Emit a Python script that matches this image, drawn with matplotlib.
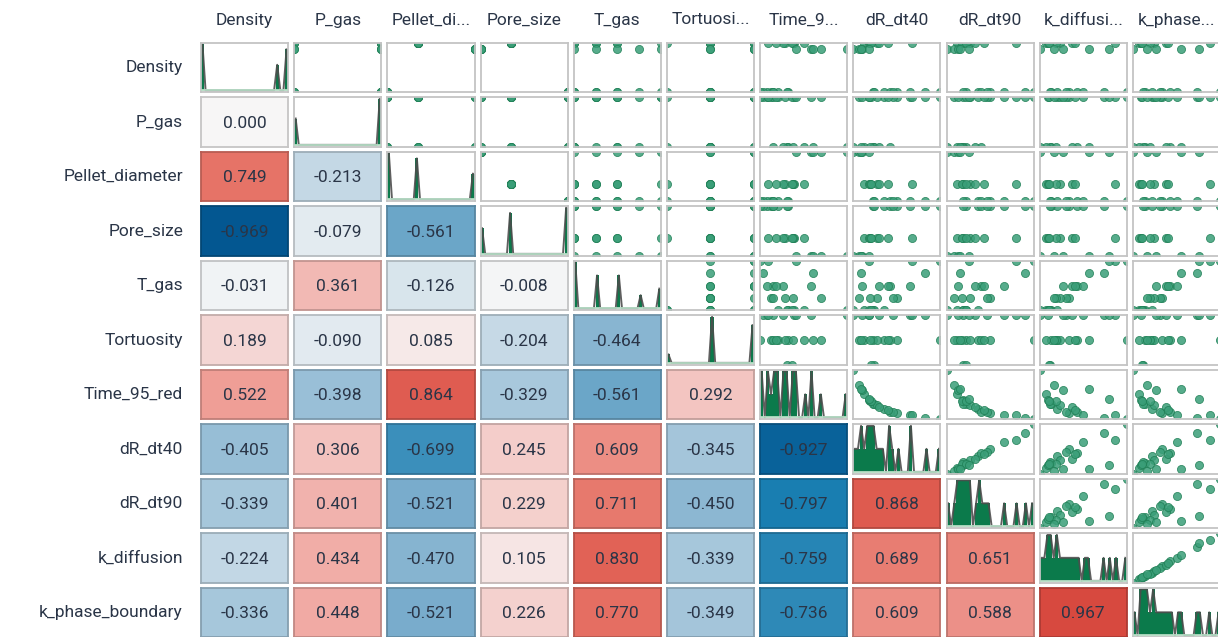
import numpy as np
import matplotlib
matplotlib.use("Agg")
import matplotlib.pyplot as plt
from matplotlib.colors import LinearSegmentedColormap, to_rgb

plt.rcParams['font.family'] = ['Roboto', 'DejaVu Sans']

# variable names (rows) and the truncated column headers as shown
names = ['Density', 'P_gas', 'Pellet_diameter', 'Pore_size', 'T_gas', 'Tortuosity',
         'Time_95_red', 'dR_dt40', 'dR_dt90', 'k_diffusion', 'k_phase_boundary']
headers = ['Density', 'P_gas', 'Pellet_di...', 'Pore_size', 'T_gas', 'Tortuosi...',
           'Time_9...', 'dR_dt40', 'dR_dt90', 'k_diffusi...', 'k_phase...']

# samples (estimated from the scatter cells)
density = [3.20, 3.20, 3.20, 3.20, 3.20, 3.20, 3.20, 3.20, 3.20,
           4.40, 4.40, 4.40, 4.40, 4.40, 4.40, 4.40, 4.40,
           4.26, 4.26, 4.26, 4.26, 4.26]
p_gas = [1, 5, 5, 1, 5, 5, 5, 1, 5,
         1, 5, 5, 1, 5, 5, 1, 5,
         1, 5, 5, 1, 5]
pellet_diameter = [10.0, 10.0, 10.0, 10.0, 10.0, 10.0, 10.0, 10.0, 10.0,
                   11.4, 11.4, 11.4, 11.4, 11.4, 11.4, 11.4, 11.4,
                   14.0, 14.0, 14.0, 14.0, 14.0]
pore_size = [2.0, 2.0, 2.0, 2.0, 2.0, 2.0, 2.0, 2.0, 2.0,
             0.9, 0.9, 0.9, 0.9, 0.9, 0.9, 0.9, 0.9,
             0.3, 0.3, 0.3, 0.3, 0.3]
t_gas = [700, 700, 750, 800, 800, 850, 900, 700, 750,
         700, 700, 750, 800, 800, 900, 750, 700,
         700, 750, 800, 850, 900]
tortuosity = [3.0, 3.0, 3.0, 3.0, 4.5, 4.5, 3.0, 1.5, 4.5,
              3.0, 4.5, 3.0, 4.5, 3.0, 4.5, 3.0, 1.5,
              4.5, 3.0, 4.5, 3.0, 4.5]
time_95_red = [60, 45, 35, 38, 28, 22, 18, 58, 37,
               85, 70, 55, 52, 42, 30, 68, 66,
               150, 110, 95, 98, 72]
dr_dt40 = [1.5, 2.0, 2.6, 2.3, 3.2, 3.9, 4.6, 1.55, 2.4,
           1.1, 1.3, 1.7, 1.8, 2.2, 3.3, 1.35, 1.4,
           0.6, 0.85, 1.0, 0.95, 1.3]
dr_dt90 = [0.55, 0.75, 0.95, 0.80, 1.20, 1.55, 1.70, 0.50, 0.90,
           0.40, 0.50, 0.62, 0.70, 0.85, 1.40, 0.48, 0.55,
           0.22, 0.35, 0.42, 0.45, 0.60]
k_diffusion = [0.8, 1.0, 1.4, 1.7, 1.9, 2.6, 3.4, 0.75, 1.3,
               0.6, 0.7, 1.1, 1.5, 1.6, 3.0, 0.95, 0.72,
               0.4, 0.9, 1.2, 2.1, 2.8]
k_phase_boundary = [1.2, 1.5, 2.0, 2.4, 2.7, 3.7, 4.8, 1.1, 1.9,
                    0.9, 1.0, 1.6, 2.2, 2.3, 4.3, 1.4, 1.05,
                    0.6, 1.3, 1.7, 2.9, 3.8]

# correlation values printed in the lower triangle (row by row)
corr_lower = [
    [],
    [0.000],
    [0.749, -0.213],
    [-0.969, -0.079, -0.561],
    [-0.031, 0.361, -0.126, -0.008],
    [0.189, -0.090, 0.085, -0.204, -0.464],
    [0.522, -0.398, 0.864, -0.329, -0.561, 0.292],
    [-0.405, 0.306, -0.699, 0.245, 0.609, -0.345, -0.927],
    [-0.339, 0.401, -0.521, 0.229, 0.711, -0.450, -0.797, 0.868],
    [-0.224, 0.434, -0.470, 0.105, 0.830, -0.339, -0.759, 0.689, 0.651],
    [-0.336, 0.448, -0.521, 0.226, 0.770, -0.349, -0.736, 0.609, 0.588, 0.967],
]

data = [density, p_gas, pellet_diameter, pore_size, t_gas, tortuosity,
        time_95_red, dr_dt40, dr_dt90, k_diffusion, k_phase_boundary]

cmap = LinearSegmentedColormap.from_list('corr', [
    (0.0, '#00528d'), (0.1, '#1a7fb2'), (0.25, '#80b0ce'), (0.5, '#f7f7f7'),
    (0.75, '#f0a29b'), (0.9, '#e4695c'), (1.0, '#d5433a')])

text_col = '#2a3547'
grid_col = '#c4c4c4'
W, H = 1218, 637
x0, px, cw = 200.9, 93.2, 87.2
y0, py, ch = 42.9, 54.5, 49.3
n = len(names)

fig = plt.figure(figsize=(W / 100, H / 100), dpi=100)

for i in range(n):
    fig.text(183 / W, 1 - (y0 + i * py + ch / 2) / H, names[i], ha='right', va='center',
             fontsize=12.5, color=text_col)
    fig.text((x0 + i * px + cw / 2) / W, 1 - 20 / H, headers[i], ha='center', va='center',
             fontsize=12.5, color=text_col)
    for j in range(n):
        left = x0 + j * px
        top = y0 + i * py
        ax = fig.add_axes([left / W, 1 - (top + ch) / H, cw / W, ch / H])
        ax.set_xticks([])
        ax.set_yticks([])
        for s in ax.spines.values():
            s.set_color(grid_col)
            s.set_linewidth(1.3)
        if j < i:
            r = corr_lower[i][j]
            fc = cmap((r + 1) / 2)
            ax.set_facecolor(fc)
            ec = tuple(c * 0.8 for c in to_rgb(fc))
            for s in ax.spines.values():
                s.set_color(ec)
            ax.text(0.5, 0.48, f'{r:.3f}', ha='center', va='center', fontsize=12.5,
                    color=text_col, transform=ax.transAxes)
        elif j == i:
            v = np.array(data[i], dtype=float)
            lo, hi = v.min(), v.max()
            counts, edges = np.histogram(v, bins=28, range=(lo, hi))
            centers = (edges[:-1] + edges[1:]) / 2
            ax.bar(edges[:-1], counts, width=np.diff(edges), align='edge',
                   color='#0b7a4b', linewidth=0)
            ax.plot(centers, counts, color='#4d4d4d', lw=1.4, alpha=0.9)
            ax.axhline(0, color='#b5dcc4', lw=1.3, zorder=3)
            ax.set_xlim(lo, hi)
            ax.set_ylim(-0.04 * counts.max(), counts.max() * 1.03)
        else:
            xv = np.array(data[j], dtype=float)
            yv = np.array(data[i], dtype=float)
            ax.scatter(xv, yv, s=34, color='#3a9e78', edgecolor='#1f7f55',
                       linewidth=0.6, alpha=0.85)
            ax.set_xlim(xv.min(), xv.max())
            ax.set_ylim(yv.min(), yv.max())

fig.savefig('out.png', dpi=100)
